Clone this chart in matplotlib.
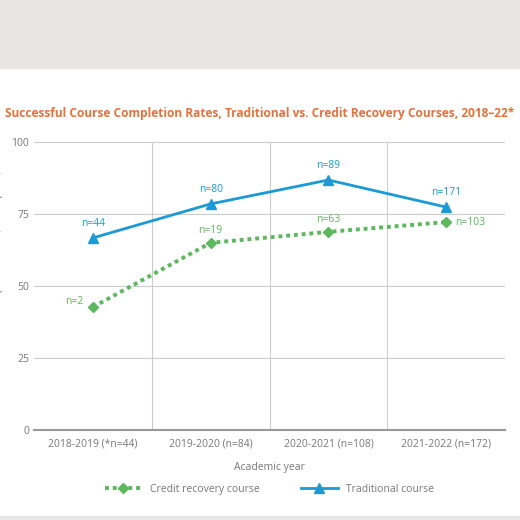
import matplotlib
matplotlib.use("Agg")
import matplotlib.pyplot as plt
from matplotlib.patches import Rectangle

years = ["2018-2019 (*n=44)", "2019-2020 (n=84)", "2020-2021 (n=108)", "2021-2022 (n=172)"]
traditional = [66.7, 78.5, 86.8, 77.4]
credit = [42.7, 65.0, 68.8, 72.2]
trad_n = ["n=44", "n=80", "n=89", "n=171"]
credit_n = ["n=2", "n=19", "n=63", "n=103"]

plt.rcParams['font.family'] = ['Open Sans', 'DejaVu Sans']
fig = plt.figure(figsize=(5.2, 5.2), dpi=100)
fig.patches.append(Rectangle((0, 1 - 68/520), 1, 68/520, transform=fig.transFigure, color='#e8e5e2', zorder=0))
fig.patches.append(Rectangle((0, 0), 1, 4/520, transform=fig.transFigure, color='#e8e5e2', zorder=0))

ax = fig.add_axes([34/520, 1 - 430/520, 471/520, 288/520])
blue = '#1b9ad6'; green = '#5cb85c'; grey = '#777777'
x = range(len(years))
ax.plot(x, credit, color=green, lw=2.8, ls=(0, (1, 1)), marker='D', ms=5, label='Credit recovery course', zorder=3)
ax.plot(x, traditional, color=blue, lw=2, marker='^', ms=7, label='Traditional course', zorder=3)
for i, (v, t) in enumerate(zip(traditional, trad_n)):
    ax.text(i, v + 3, t, color=blue, fontsize=7.5, ha='center', va='bottom')
offs = [(-0.08, 2, 'right'), (0, 2.5, 'center'), (0, 2.5, 'center'), (0.08, 0, 'left')]
for i, (v, t) in enumerate(zip(credit, credit_n)):
    dx, dy, ha = offs[i]
    ax.text(i + dx, v + dy, t, color=green, fontsize=7.5, ha=ha, va='center' if ha != 'center' else 'bottom')

ax.set_xlim(-0.5, 3.5); ax.set_ylim(0, 100)
ax.set_yticks([0, 25, 50, 75, 100])
ax.set_xticks(list(x)); ax.set_xticklabels(years)
ax.set_xticks([0.5, 1.5, 2.5], minor=True)
ax.grid(True, axis='y', color='#cccccc', lw=0.8)
ax.grid(True, axis='x', which='minor', color='#cccccc', lw=0.8)
ax.tick_params(which='both', length=0, colors=grey, labelsize=7.5)
ax.tick_params(axis='x', pad=6)
for s in ['top', 'right', 'left']:
    ax.spines[s].set_visible(False)
ax.spines['bottom'].set_color('#999999'); ax.spines['bottom'].set_linewidth(1.5)
ax.set_xlabel('Academic year', color=grey, fontsize=7.5, labelpad=9)
ax.set_ylabel('Successful course completion rate (% complete)', color=grey, fontsize=7.5, labelpad=6)
fig.text(0.5, 1 - 113/520, 'Successful Course Completion Rates, Traditional vs. Credit Recovery Courses, 2018–22*',
         color='#e8703a', fontsize=8.6, fontweight='bold', ha='center', va='center')
ax.legend(loc='upper center', bbox_to_anchor=(0.5, -0.155), ncol=2, frameon=False, fontsize=7.5,
          labelcolor=grey, columnspacing=4, handlelength=3.5)
fig.savefig('out.png', dpi=100)
